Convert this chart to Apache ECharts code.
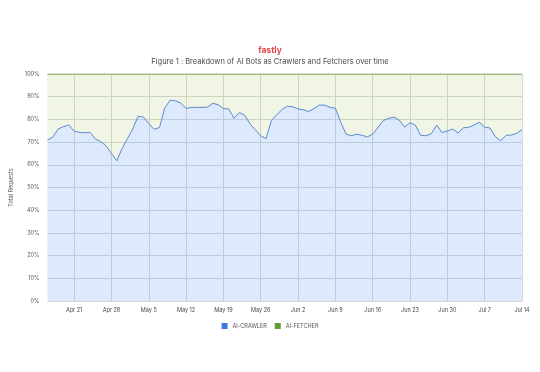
<!DOCTYPE html>
<html>
<head>
<meta charset="utf-8">
<script src="https://cdn.jsdelivr.net/npm/echarts@6/dist/echarts.min.js"></script>
<style>
html,body{margin:0;padding:0;background:#fff;}
#c{width:540px;height:372px;}
</style>
</head>
<body>
<div id="c"></div>
<script>
// Daily dates from Apr 16 to Jul 14 (2025)
const startDate = '2025-04-16';
const dayCount = 90;
const monthNames = ['Jan','Feb','Mar','Apr','May','Jun','Jul','Aug','Sep','Oct','Nov','Dec'];
const categories = [];
(function(){
  const d0 = new Date(startDate + 'T00:00:00Z');
  for (let i = 0; i < dayCount; i++) {
    const d = new Date(d0.getTime() + i * 86400000);
    categories.push(monthNames[d.getUTCMonth()] + ' ' + d.getUTCDate());
  }
})();

const tickLabels = ['Apr 21','Apr 28','May 5','May 12','May 19','May 26','Jun 2','Jun 9','Jun 16','Jun 23','Jun 30','Jul 7','Jul 14'];
const yTickLabels = ['0%','10%','20%','30%','40%','50%','60%','70%','80%','90%','100%'];

// AI-CRAWLER share of total requests (%)
const aiCrawler = [
  70.9, 72.2, 75.8, 76.8, 77.6, 74.8, 74.3, 74.1, 74.3, 71.3,
  70.2, 68.3, 65.0, 61.8, 67.2, 71.5, 75.8, 81.4, 81.0, 78.2,
  75.6, 76.4, 85.0, 88.5, 88.2, 87.2, 84.8, 85.3, 85.3, 85.3,
  85.4, 87.1, 86.5, 84.8, 84.6, 80.5, 83.0, 81.8, 78.0, 75.4,
  72.8, 71.5, 79.6, 82.0, 84.4, 85.8, 85.6, 84.6, 84.2, 83.5,
  84.8, 86.3, 86.3, 85.3, 84.9, 78.8, 73.5, 72.8, 73.5, 73.0,
  72.3, 73.5, 76.5, 79.5, 80.5, 81.0, 79.6, 76.6, 78.5, 77.5,
  73.0, 72.8, 73.7, 77.5, 74.2, 74.9, 75.8, 74.0, 76.3, 76.5,
  77.5, 78.7, 76.6, 76.2, 72.4, 70.6, 73.0, 73.1, 73.8, 75.6
];
// AI-FETCHER share = remainder of the 100% stack
const aiFetcher = aiCrawler.map(v => +(100 - v).toFixed(1));

const chart = echarts.init(document.getElementById('c'), null, {renderer: 'canvas'});
const font = 'Inter, "Noto Sans", sans-serif';
const showTick = (idx) => tickLabels.indexOf(categories[idx]) !== -1;

chart.setOption({
  animation: false,
  backgroundColor: '#ffffff',
  title: [
    {
      text: 'fastly',
      left: 'center',
      top: 41,
      textStyle: {color: '#e5484d', fontSize: 8.5, fontWeight: 'bold', fontFamily: font}
    },
    {
      text: 'Figure 1 : Breakdown of AI Bots as Crawlers and Fetchers over time',
      left: 'center',
      top: 53,
      textStyle: {color: '#4a4a4a', fontSize: 7.5, fontWeight: 'normal', fontFamily: font}
    }
  ],
  legend: {
    bottom: 38,
    left: 'center',
    icon: 'rect',
    itemWidth: 6,
    itemHeight: 6,
    itemGap: 8,
    textStyle: {color: '#555555', fontSize: 5.5, fontFamily: font},
    data: ['AI-CRAWLER', 'AI-FETCHER']
  },
  grid: {left: 45, right: 18, top: 74, bottom: 71, containLabel: false},
  xAxis: {
    type: 'category',
    boundaryGap: false,
    data: categories,
    axisLine: {show: false},
    axisTick: {show: false},
    axisLabel: {
      interval: (idx) => showTick(idx),
      color: '#444444',
      fontSize: 5.5,
      fontFamily: font,
      margin: 6,
      showMaxLabel: true
    },
    splitLine: {
      show: true,
      interval: (idx) => showTick(idx),
      lineStyle: {color: '#d6dbd2', width: 1}
    }
  },
  yAxis: {
    type: 'value',
    min: 0,
    max: 100,
    interval: 10,
    name: 'Total Requests',
    nameLocation: 'middle',
    nameGap: 32,
    nameRotate: 90,
    nameTextStyle: {color: '#555555', fontSize: 5.5, fontFamily: font},
    axisLine: {show: false},
    axisTick: {show: false},
    axisLabel: {
      formatter: (v) => yTickLabels[Math.round(v / 10)],
      color: '#555555',
      fontSize: 5.5,
      fontFamily: font,
      margin: 8
    },
    splitLine: {lineStyle: {color: '#d6dbd2', width: 1}}
  },
  series: [
    {
      name: 'AI-CRAWLER',
      type: 'line',
      stack: 'total',
      data: aiCrawler,
      symbol: 'none',
      color: '#3c78e0',
      lineStyle: {color: '#5c8ad0', width: 1},
      areaStyle: {color: 'rgba(66,133,244,0.18)', opacity: 1}
    },
    {
      name: 'AI-FETCHER',
      type: 'line',
      stack: 'total',
      data: aiFetcher,
      symbol: 'none',
      color: '#5f9e2f',
      lineStyle: {color: '#6f9a45', width: 1.2},
      areaStyle: {color: 'rgba(130,170,40,0.12)', opacity: 1}
    }
  ]
});
</script>
</body>
</html>
